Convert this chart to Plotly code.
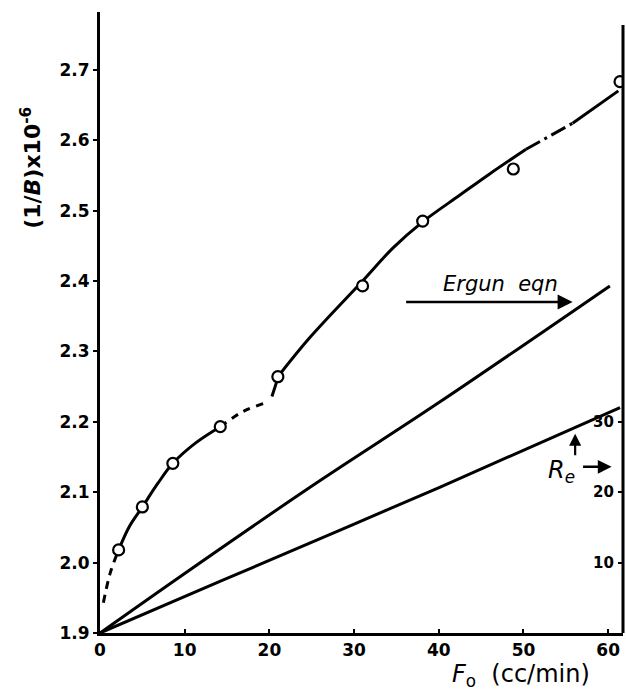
import plotly.graph_objects as go

# Measured points (open circles)
F_points = [2.2, 5.0, 8.6, 14.2, 21.0, 31.0, 38.1, 48.8, 61.4]
B_points = [2.018, 2.079, 2.141, 2.193, 2.264, 2.393, 2.485, 2.559, 2.683]

# Fitted curve through the points, in pieces (dashed / solid / dash-dot)
curve_a_F = [0.4, 1.2, 2.2]
curve_a_B = [1.943, 1.985, 2.018]
curve_b_F = [2.2, 3.5, 5.0, 6.8, 8.6, 11.3, 14.2]
curve_b_B = [2.018, 2.052, 2.079, 2.112, 2.141, 2.170, 2.193]
curve_c_F = [14.2, 16.8, 19.3]
curve_c_B = [2.193, 2.214, 2.226]
curve_d_F = [20.3, 21.0]
curve_d_B = [2.236, 2.262]
curve_e_F = [21.0, 24.8, 31.0, 34.6, 38.1, 42.5, 46.0, 50.3]
curve_e_B = [2.264, 2.320, 2.400, 2.447, 2.484, 2.522, 2.552, 2.587]
curve_f_F = [50.3, 55.8]
curve_f_B = [2.587, 2.624]
curve_g_F = [55.8, 61.2]
curve_g_B = [2.624, 2.670]

# Ergun equation line
ergun_F = [0, 9.45, 24.8, 40.1, 60.2]
ergun_B = [1.9, 1.980, 2.107, 2.228, 2.393]

# Reynolds number line (right axis)
re_F = [0, 14.5, 40.1, 61.4]
re_vals = [0, 7.5, 20.7, 32.0]

y_ticks = [1.9, 2.0, 2.1, 2.2, 2.3, 2.4, 2.5, 2.6, 2.7]
y_ticklabels = ["1.9", "2.0", "2.1", "2.2", "2.3", "2.4", "2.5", "2.6", "2.7"]
x_ticks = [0, 10, 20, 30, 40, 50, 60]
re_ticks = [10, 20, 30]
re_ticklabels = ["10", "20", "30"]

LW = 3
col = "black"
FONT = "DejaVu Sans"
fig = go.Figure()

def seg(xs, ys, dash="solid", yaxis="y"):
    fig.add_trace(go.Scatter(x=xs, y=ys, mode="lines", yaxis=yaxis,
                             line=dict(color=col, width=LW, dash=dash, shape="spline"),
                             hoverinfo="skip", showlegend=False))

seg(curve_a_F, curve_a_B, dash="8px,6px")
seg(curve_b_F, curve_b_B)
seg(curve_c_F, curve_c_B, dash="7px,7px")
seg(curve_d_F, curve_d_B, dash="solid")
seg(curve_e_F, curve_e_B)
seg(curve_f_F, curve_f_B, dash="16px,5px,3px,5px")
seg(curve_g_F, curve_g_B)
seg(ergun_F, ergun_B)
seg(re_F, re_vals, yaxis="y2")

fig.add_trace(go.Scatter(x=F_points, y=B_points, mode="markers",
                         marker=dict(symbol="circle", size=11, color="white",
                                     line=dict(color=col, width=2.2)),
                         hoverinfo="skip", showlegend=False))

tickfont = dict(family=FONT, size=17, color=col, weight="bold")

fig.update_layout(
    width=626, height=691,
    margin=dict(l=100, r=3, t=12, b=58),
    paper_bgcolor="white", plot_bgcolor="white",
    xaxis=dict(range=[0, 61.75], tickvals=x_ticks, ticks="inside", ticklen=4,
               tickwidth=2, tickcolor=col, showgrid=False, zeroline=False,
               showline=True, linewidth=3, linecolor=col, tickfont=tickfont,
               ticklabeloverflow="allow"),
    yaxis=dict(range=[1.9, 2.782], tickvals=y_ticks, ticktext=y_ticklabels,
               ticks="outside", ticklen=4, tickwidth=2, tickcolor=col,
               showgrid=False, zeroline=False, showline=True, linewidth=3,
               linecolor=col, tickfont=tickfont),
    yaxis2=dict(range=[0, 88.2], overlaying="y", side="right", tickvals=re_ticks,
                ticks="inside", ticklen=5, tickwidth=2, tickcolor=col,
                showticklabels=False, showgrid=False, zeroline=False,
                showline=False),
)

# right axis line (shorter than the left one)
fig.add_shape(type="line", xref="paper", yref="paper", x0=1, x1=1, y0=0, y1=0.979,
              line=dict(color=col, width=3))

# Re axis tick labels (inside the right axis)
for v, t in zip(re_ticks, re_ticklabels):
    fig.add_annotation(xref="paper", yref="y2", x=0.987, y=v, text=t,
                       xanchor="right", yanchor="middle", showarrow=False,
                       font=dict(family=FONT, size=15, color=col, weight="bold"))

# axis titles
fig.add_annotation(xref="paper", yref="paper", x=-0.132, y=0.749,
                   xanchor="center", yanchor="middle",
                   text="(1/<i>B</i>)x10<sup>-6</sup>", textangle=-90, showarrow=False,
                   font=dict(family=FONT, size=22, color=col, weight="bold"))
fig.add_annotation(xref="paper", yref="paper", x=0.805, y=-0.068,
                   text="<i>F</i><sub>o</sub>  (cc/min)", showarrow=False,
                   xanchor="center", yanchor="middle",
                   font=dict(family=FONT, size=24, color=col))

# Ergun label and arrow
fig.add_annotation(x=47.3, y=2.395, text="<i>Ergun  eqn</i>", showarrow=False,
                   font=dict(family=FONT, size=21, color=col))
fig.add_annotation(x=55.8, y=2.370, ax=-168, ay=0, text="", showarrow=True,
                   arrowhead=2, arrowsize=1.2, arrowwidth=2.5, arrowcolor=col)

# Re label and arrows
fig.add_annotation(x=54.5, y=2.129, text="<i>R<sub>e</sub></i>", showarrow=False,
                   font=dict(family=FONT, size=24, color=col))
fig.add_annotation(x=56.1, y=2.183, ax=0, ay=23, text="", showarrow=True,
                   arrowhead=2, arrowsize=1.1, arrowwidth=2.2, arrowcolor=col)
fig.add_annotation(x=60.4, y=2.136, ax=-30, ay=0, text="", showarrow=True,
                   arrowhead=2, arrowsize=1.1, arrowwidth=2.5, arrowcolor=col)

fig.write_html("out.html")
